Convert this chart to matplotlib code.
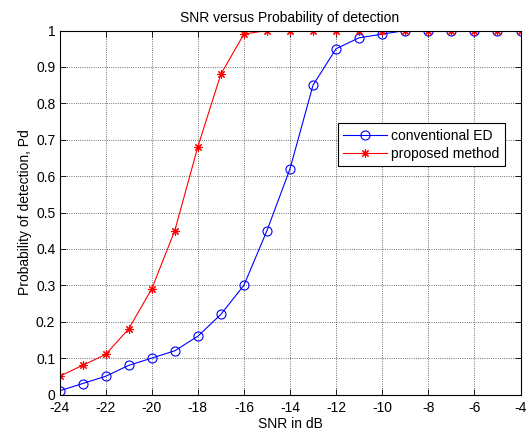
import matplotlib
matplotlib.use("Agg")
import matplotlib.pyplot as plt

snr = list(range(-24, -3))
pd_conv = [0.01, 0.03, 0.05, 0.08, 0.10, 0.12, 0.16, 0.22, 0.30, 0.45, 0.62,
           0.85, 0.95, 0.98, 0.99, 1.0, 1.0, 1.0, 1.0, 1.0, 1.0]
pd_prop = [0.05, 0.08, 0.11, 0.18, 0.29, 0.45, 0.68, 0.88, 0.99, 1.0, 1.0,
           1.0, 1.0, 1.0, 1.0, 1.0, 1.0, 1.0, 1.0, 1.0, 1.0]
xticks = list(range(-24, -3, 2))
yticks = [0, 0.1, 0.2, 0.3, 0.4, 0.5, 0.6, 0.7, 0.8, 0.9, 1]
ytick_labels = ["0", "0.1", "0.2", "0.3", "0.4", "0.5", "0.6", "0.7", "0.8", "0.9", "1"]

plt.rcParams['font.family'] = ['Liberation Sans', 'DejaVu Sans']
plt.rcParams['axes.unicode_minus'] = False
fig = plt.figure(figsize=(5.26, 4.33), dpi=100)
ax = fig.add_axes([59.5 / 526, 38.5 / 433, 461 / 526, 364 / 433])

ax.plot(snr, pd_conv, color='blue', marker='o', markersize=6.5, markerfacecolor='none',
        markeredgewidth=0.8, linewidth=0.8, label='conventional ED')
ax.plot(snr, pd_prop, color='red', marker=(8, 2, 0), markersize=6, markeredgewidth=0.8,
        linewidth=0.8, label='proposed method')

ax.set_xlim(-24, -4)
ax.set_ylim(0, 1)
ax.set_xticks(xticks)
ax.set_yticks(yticks)
ax.set_yticklabels(ytick_labels)
ax.tick_params(direction='in', labelsize=10, top=True, right=True, length=4, width=0.6)
ax.tick_params(axis='x', pad=5)
ax.tick_params(axis='y', pad=3)
ax.grid(True, linestyle=':', color='#444444', linewidth=0.6)
for s in ax.spines.values():
    s.set_linewidth(0.8)

ax.set_xlabel('SNR in dB', fontsize=10, labelpad=1)
ax.set_ylabel('Probability of detection, Pd', fontsize=10, labelpad=3)
ax.set_title('SNR versus Probability of detection', fontsize=10, pad=6)

leg = ax.legend(loc='upper left', bbox_to_anchor=(0.604, 0.746), fontsize=10,
                fancybox=False, framealpha=1, edgecolor='black', borderaxespad=0,
                handlelength=3.1, handletextpad=0.3, borderpad=0.4, labelspacing=0.3)
leg.get_frame().set_linewidth(0.8)

fig.savefig('out.png', dpi=100)
